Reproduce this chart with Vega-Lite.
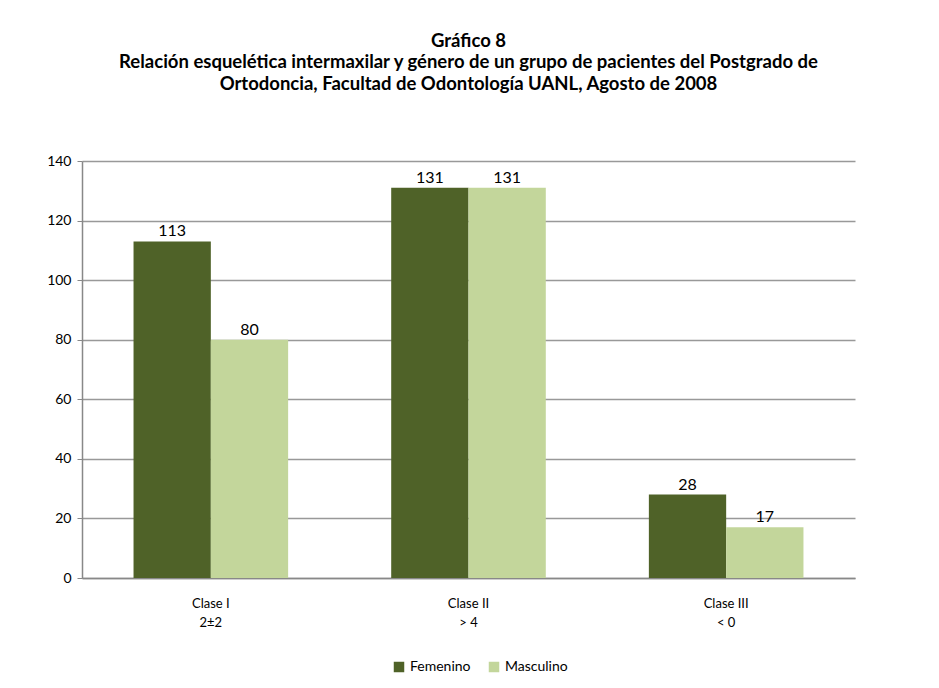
{
  "$schema": "https://vega.github.io/schema/vega-lite/v6.json",
  "width": 773,
  "height": 417,
  "autosize": {"type": "none"},
  "padding": {"left": 82, "top": 161, "right": 84, "bottom": 110},
  "background": "white",
  "title": {
    "text": ["Gráfico 8", "Relación esquelética intermaxilar y género de un grupo de pacientes del Postgrado de", "Ortodoncia, Facultad de Odontología UANL, Agosto de 2008"],
    "font": "Lato",
    "fontSize": 18.5,
    "fontWeight": "bold",
    "color": "#000000",
    "lineHeight": 21.5,
    "anchor": "middle",
    "offset": 61
  },
  "data": {
    "values": [
      {"clase": "Clase I|2±2", "genero": "Femenino", "valor": 113},
      {"clase": "Clase I|2±2", "genero": "Masculino", "valor": 80},
      {"clase": "Clase II|> 4", "genero": "Femenino", "valor": 131},
      {"clase": "Clase II|> 4", "genero": "Masculino", "valor": 131},
      {"clase": "Clase III|< 0", "genero": "Femenino", "valor": 28},
      {"clase": "Clase III|< 0", "genero": "Masculino", "valor": 17}
    ]
  },
  "encoding": {
    "x": {
      "field": "clase",
      "type": "nominal",
      "sort": null,
      "scale": {"paddingInner": 0.4, "paddingOuter": 0.2},
      "axis": {
        "title": null,
        "labelAngle": 0,
        "labelExpr": "split(datum.label, '|')",
        "labelFont": "Lato",
        "labelFontSize": 13,
        "labelColor": "#000000",
        "labelLineHeight": 19,
        "labelPadding": 19,
        "domainColor": "#888888",
        "domainWidth": 1.5,
        "ticks": false
      }
    },
    "xOffset": {"field": "genero", "type": "nominal", "scale": {"domain": ["Femenino", "Masculino"]}},
    "y": {
      "field": "valor",
      "type": "quantitative",
      "scale": {"domain": [0, 140]},
      "axis": {
        "title": null,
        "values": [0, 20, 40, 60, 80, 100, 120, 140],
        "labelFont": "Lato",
        "labelFontSize": 14,
        "labelColor": "#000000",
        "labelPadding": 6,
        "tickSize": 5,
        "tickColor": "#888888",
        "domainColor": "#888888",
        "domainWidth": 1.5,
        "gridColor": "#999999",
        "gridWidth": 1.5
      }
    }
  },
  "layer": [
    {
      "mark": {"type": "bar"},
      "encoding": {
        "color": {
          "field": "genero",
          "type": "nominal",
          "scale": {"domain": ["Femenino", "Masculino"], "range": ["#4F6228", "#C3D69B"]},
          "legend": {
            "title": null,
            "orient": "none",
            "legendX": 310,
            "legendY": 499,
            "direction": "horizontal",
            "symbolType": "square",
            "symbolSize": 110,
            "symbolStrokeWidth": 0,
            "labelFont": "Lato",
            "labelFontSize": 14,
            "labelColor": "#000000",
            "columnPadding": 16
          }
        }
      }
    },
    {
      "mark": {"type": "text", "dy": -10, "font": "Lato", "fontSize": 16, "color": "#000000"},
      "encoding": {
        "text": {"field": "valor", "type": "quantitative"}
      }
    }
  ],
  "config": {
    "view": {"stroke": null}
  }
}
